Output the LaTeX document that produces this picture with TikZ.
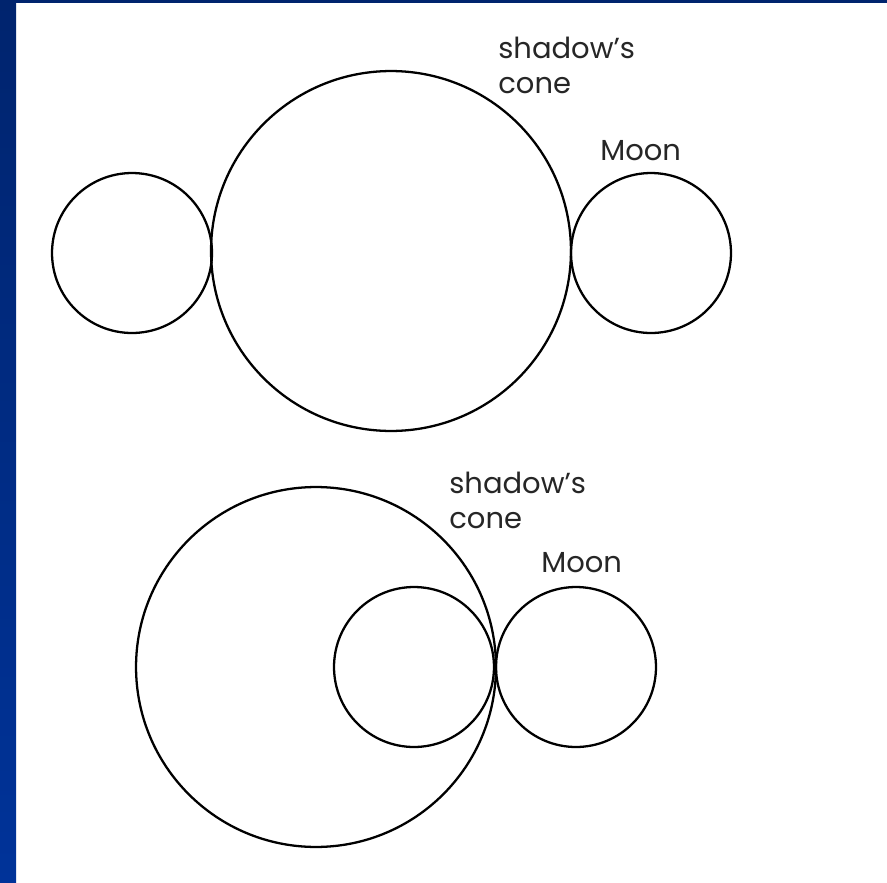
\documentclass[tikz,border=0pt]{standalone}
\usepackage{fontspec}
\setmainfont{Poppins}
\usetikzlibrary{positioning}

\definecolor{barTop}{RGB}{0,36,110}
\definecolor{barBottom}{RGB}{0,51,153}

\tikzset{
    cone/.style={draw, circle, line width=1.3pt, inner sep=0pt, minimum size=7.2cm},
    moon/.style={draw, circle, line width=1.3pt, inner sep=0pt, minimum size=3.2cm},
    lbl/.style={inner sep=0pt, anchor=north west, align=left, font=\fontsize{16.5}{19.5}\selectfont, text=black!85}
}

\begin{document}
\begin{tikzpicture}[x=0.02cm, y=-0.02cm]
    \useasboundingbox (0, 0) rectangle (887, 883);
    % slide frame
    \shade[top color=barTop, bottom color=barBottom] (0, 0) rectangle (16, 883);
    \fill[barTop] (0, 0) rectangle (887, 3);

    % Moon outside the shadow
    \node[cone] (coneA) at (391, 251) {};
    \node[moon] (leftA) at (132, 253) {};
    \node[moon] (moonA) at (651, 253) {};
    \node[lbl] (coneAlbl) at (498, 37) {shadow's\\cone};
    \node[lbl] (moonAlbl) at (600, 140) {Moon};

    % Moon entering the shadow
    \node[cone] (coneB) at (316, 667) {};
    \node[moon] (innerB) at (414, 667) {};
    \node[moon] (moonB) at (576, 667) {};
    \node[lbl] (coneBlbl) at (449, 472) {shadow's\\cone};
    \node[lbl] (moonBlbl) at (541, 552) {Moon};
\end{tikzpicture}
\end{document}
